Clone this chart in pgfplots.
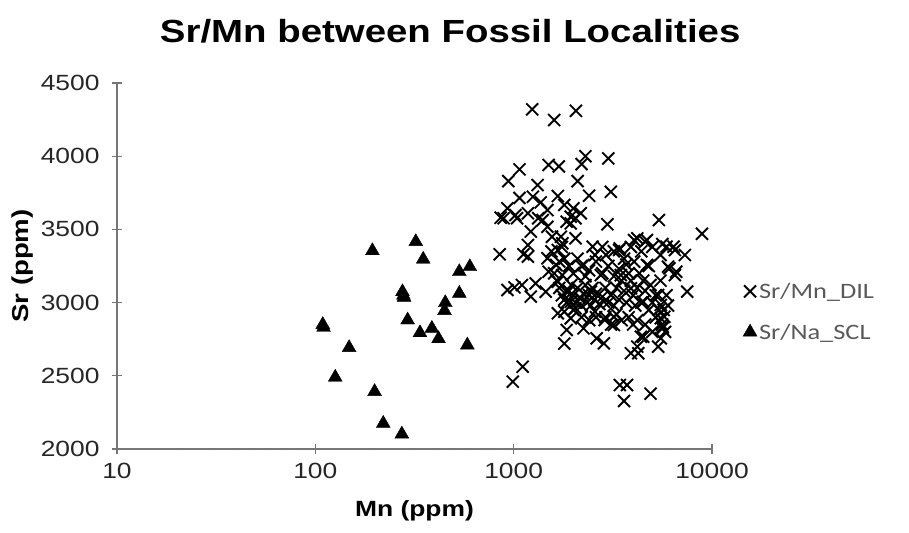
\documentclass[border=0pt]{standalone}
\usepackage{pgfplots}
\pgfplotsset{compat=1.18}
\usepackage{fontspec}
\setmainfont{Liberation Sans}[FakeStretch=1.2]
\newfontfamily\legfont{Carlito}[FakeStretch=1.2]
\definecolor{axgray}{HTML}{767676}
\definecolor{txtgray}{HTML}{595959}
\begin{document}
\begin{tikzpicture}
\begin{axis}[
  scale only axis, width=595bp, height=366bp,
  xmode=log, xmin=10, xmax=10000, ymin=2000, ymax=4500,
  xtick={10,100,1000,10000}, xticklabels={10,100,1000,10000},
  ytick={2000,2500,3000,3500,4000,4500},
  yticklabels={2000,2500,3000,3500,4000,4500},
  minor tick num=0, minor xtick={},
  axis x line=bottom, axis y line=left,
  axis line style={-, axgray, line width=1.2bp},
  tick style={axgray, line width=1.2bp},
  tick align=center, major tick length=10bp,
  /pgf/number format/assume math mode=true,
  ticklabel style={font=\fontsize{22bp}{26bp}\selectfont, text=black!85},
  xticklabel style={yshift=-6bp},
  yticklabel style={xshift=-9bp},
  title={Sr/Mn between Fossil Localities},
  title style={at={(0.56,1)}, anchor=base, yshift=35bp, font=\bfseries\fontsize{32bp}{38bp}\selectfont},
  xlabel={Mn (ppm)},
  xlabel style={at={(axis description cs:0.5,-0.17)}, anchor=center, font=\bfseries\fontsize{22bp}{26bp}\selectfont},
  ylabel={Sr (ppm)},
  ylabel style={at={(axis description cs:-0.158,0.5)}, anchor=center, font=\bfseries\fontsize{23bp}{27bp}\selectfont},
  legend style={at={(axis description cs:1.047,0.375)}, anchor=west, draw=none, fill=none,
    font=\legfont\fontsize{22bp}{26bp}\selectfont, text=txtgray, row sep=20bp,
    legend cell align=left},
  clip=false,
]
\addplot[only marks, mark=x, mark size=8.5bp, line width=1.9bp, black] table {
x y
1240 4320
1600 4247
2060 4310
2300 4000
2200 3946
3000 3985
3090 3757
1070 3910
940 3830
1500 3940
1690 3930
1320 3803
2100 3830
2400 3730
1070 3715
1670 3728
860 3580
930 3644
1020 3598
1370 3685
1250 3723
1480 3632
1800 3667
2000 3644
2180 3610
1940 3587
1330 3576
1180 3610
1220 3485
1480 3518
1940 3541
2970 3535
5400 3564
8900 3470
850 3330
1180 3393
1120 3330
1730 3450
1670 3359
2500 3382
3400 3359
4050 3427
4600 3416
5620 3400
6400 3382
7300 3325
6000 3245
6600 3211
6100 3234
6500 3188
7500 3075
890 3576
1040 3576
1400 3564
1850 3553
2050 3576
1560 3450
1760 3405
2050 3439
4200 3439
4700 3427
3430 3370
2920 3325
5900 3382
6500 3359
5500 3325
4700 3257
4050 3280
4900 3120
5350 3052
5520 2984
4500 3006
3900 3097
3470 3188
930 3086
1010 3104
1220 3041
1100 3120
1290 3131
1450 3074
1180 3314
1480 3303
1640 3257
1500 3211
1760 3188
1670 3143
1850 3075
1940 3006
1800 2938
2180 3029
2450 3075
2250 3257
2570 3325
2750 3188
2050 2961
2570 2938
2850 3006
990 2460
1110 2562
1800 2720
1850 2813
1940 2893
2250 2824
2620 2756
2850 2722
2880 2881
1670 2927
3200 2903
3900 2654
4200 2699
4500 2767
5350 2699
5650 2835
5750 2903
3200 2847
4250 2654
4380 2767
5520 2756
5620 2824
5520 2893
3430 2437
3730 2437
3600 2328
4900 2378
1600 3200
1650 3150
1700 3100
1750 3050
1800 3020
1850 3000
1900 3080
1950 3120
2000 3050
2050 3000
2100 3100
2150 3030
2200 2980
2250 3060
2300 3120
2350 3000
2400 3050
2450 2980
2500 3100
2550 3020
2600 3060
2700 2990
2800 3040
2900 3100
3000 3000
3100 3050
3200 2980
3300 3100
3400 3020
3500 3150
3600 3080
3700 3000
3800 3200
3900 3150
4000 3050
4100 2980
4200 3100
4300 3200
4400 3000
4500 3150
4600 3080
4800 2950
5000 3000
5200 2900
5400 2950
5600 2850
5800 2800
1700 3280
1800 3300
1900 3250
2000 3200
2100 3300
2200 3250
2300 3180
2400 3220
2600 3280
2800 3200
3000 3250
3200 3180
3400 3230
3600 3300
3700 3260
1550 3350
1750 3380
2000 2950
2200 2900
2400 2880
2600 2900
2900 2900
3100 2850
3300 2920
3500 2880
3800 2900
4000 2850
4200 2880
4600 2850
5000 2800
5200 3050
5500 3150
4800 3250
4400 3350
5000 3380
3900 3380
3200 3350
2800 3380
5900 3050
5700 2950
6000 2980
};
\addlegendentry{Sr/Mn\_DIL}
\addplot[only marks, mark=triangle*, mark size=8bp, black] table {
x y
194 3354
321 3416
350 3296
532 3211
601 3245
275 3074
278 3050
280 3036
532 3063
452 2999
448 2945
292 2881
337 2794
387 2824
418 2753
584 2710
109 2850
110 2830
148 2692
126 2490
199 2392
220 2175
273 2102
};
\addlegendentry{Sr/Na\_SCL}
\end{axis}
\path ([shift={(-117bp,-84bp)}]current axis.south west) rectangle ++(909bp,533bp);
\end{tikzpicture}
\end{document}
